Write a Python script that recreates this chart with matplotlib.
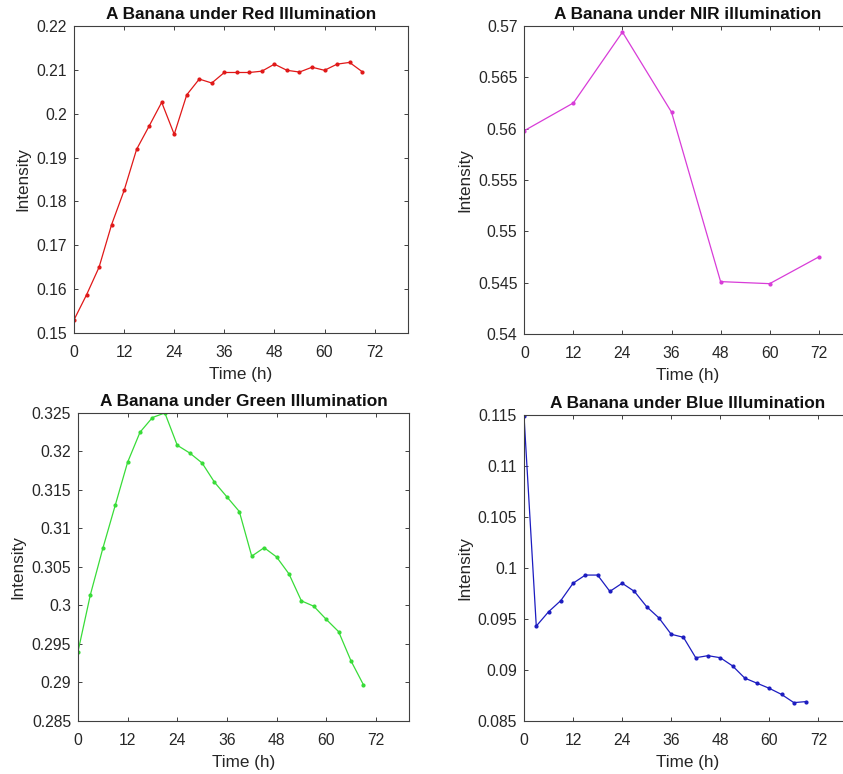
import matplotlib
matplotlib.use("Agg")
import matplotlib.pyplot as plt

plt.rcParams["font.family"] = ["Liberation Sans", "DejaVu Sans"]

# data
hours_3h = [0, 3, 6, 9, 12, 15, 18, 21, 24, 27, 30, 33,
            36, 39, 42, 45, 48, 51, 54, 57, 60, 63, 66, 69]
hours_12h = [0, 12, 24, 36, 48, 60, 72]

red = [0.1530, 0.1587, 0.1650, 0.1747, 0.1825, 0.1919, 0.1972, 0.2026,
       0.1953, 0.2043, 0.2079, 0.2070, 0.2094, 0.2094, 0.2094, 0.2097,
       0.2113, 0.2099, 0.2095, 0.2106, 0.2099, 0.2113, 0.2117, 0.2096]
nir = [0.5598, 0.5625, 0.5694, 0.5616, 0.5451, 0.5449, 0.5475]
green = [0.2940, 0.3014, 0.3074, 0.3130, 0.3186, 0.3225, 0.3244, 0.3250,
         0.3208, 0.3198, 0.3185, 0.3160, 0.3141, 0.3122, 0.3064, 0.3075,
         0.3063, 0.3041, 0.3006, 0.2999, 0.2982, 0.2966, 0.2928, 0.2897]
blue = [0.1149, 0.0943, 0.0957, 0.0968, 0.0985, 0.0993, 0.0993, 0.0977,
        0.0985, 0.0977, 0.0962, 0.0951, 0.0935, 0.0932, 0.0912, 0.0914,
        0.0912, 0.0904, 0.0892, 0.0887, 0.0882, 0.0876, 0.0868, 0.0869]

x_ticks = [0, 12, 24, 36, 48, 60, 72]
red_yticks = [0.15, 0.16, 0.17, 0.18, 0.19, 0.2, 0.21, 0.22]
nir_yticks = [0.54, 0.545, 0.55, 0.555, 0.56, 0.565, 0.57]
green_yticks = [0.285, 0.29, 0.295, 0.3, 0.305, 0.31, 0.315, 0.32, 0.325]
blue_yticks = [0.085, 0.09, 0.095, 0.1, 0.105, 0.11, 0.115]

panels = [
    # x, y, color, title, yticks, axes rect
    (hours_3h, red, "#e01818", "A Banana under Red Illumination",
     red_yticks, [0.0878, 0.5698, 0.3962, 0.3966]),
    (hours_12h, nir, "#d83cd8", "A Banana under NIR illumination",
     nir_yticks, [0.622, 0.5685, 0.388, 0.398]),
    (hours_3h, green, "#38dc38", "A Banana under Green Illumination",
     green_yticks, [0.0925, 0.0685, 0.3926, 0.398]),
    (hours_3h, blue, "#1c1cc0", "A Banana under Blue Illumination",
     blue_yticks, [0.6216, 0.0685, 0.388, 0.3955]),
]

fig = plt.figure(figsize=(8.43, 7.74), dpi=100)

axis_col = "#404040"
text_col = "#262626"

for x, y, col, title, yticks, rect in panels:
    ax = fig.add_axes(rect)
    ax.plot(x, y, color=col, lw=0.9, marker=".", ms=4)
    ax.set_xlim(0, 80)
    ax.set_ylim(yticks[0], yticks[-1])
    ax.set_xticks(x_ticks)
    ax.set_yticks(yticks)
    ax.set_yticklabels([f"{t:g}" for t in yticks])
    ax.tick_params(direction="in", length=3, width=0.7, colors=axis_col,
                   labelcolor=text_col, labelsize=11.3, top=True, right=True)
    ax.tick_params(axis="x", pad=9)
    ax.tick_params(axis="y", pad=5)
    for s in ax.spines.values():
        s.set_color(axis_col)
        s.set_linewidth(0.8)
    ax.set_xlabel("Time (h)", fontsize=12.3, color=text_col, labelpad=5)
    ax.set_ylabel("Intensity", fontsize=12.3, color=text_col, labelpad=4)
    ax.set_title(title, fontsize=12.4, fontweight="bold", color="#111111", pad=5)

fig.savefig("out.png", dpi=100)
